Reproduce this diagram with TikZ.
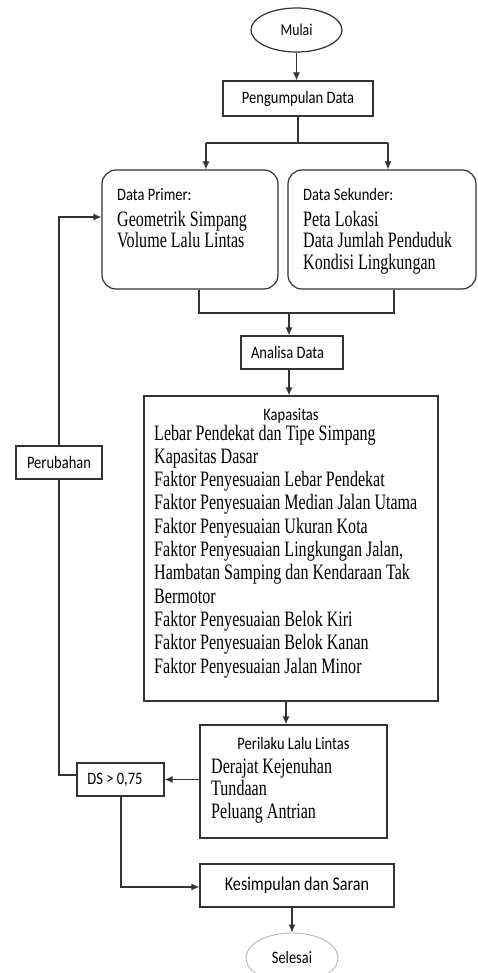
\documentclass[tikz,border=0pt]{standalone}
\usepackage{fontspec}
\newfontfamily\sansf{Carlito}[FakeStretch=0.83]
\newfontfamily\serf{Liberation Serif}[FakeStretch=0.73]
\usetikzlibrary{arrows.meta,shapes.geometric}
\definecolor{lnc}{HTML}{333333}
\begin{document}
\begin{tikzpicture}[x=1pt,y=-1pt,
  boxst/.style={draw=lnc,line width=1.2pt,rectangle,inner sep=0pt,text=black,font=\fontsize{17.5}{21}\sansf},
  roundst/.style={boxst,rounded corners=14pt},
  ellst/.style={draw=lnc,line width=1.2pt,ellipse,inner sep=0pt,text=black,font=\fontsize{17}{21}\sansf},
  conn/.style={draw=lnc,line width=1.2pt},
  arr/.style={conn,-{Latex[length=8pt,width=7pt]}},
  sanst/.style={anchor=base west,inner sep=0pt,text=black,font=\fontsize{17.5}{21}\sansf},
  serst/.style={anchor=base west,inner sep=0pt,text=black,font=\fontsize{22}{23}\serf},
]
\useasboundingbox (0,0) rectangle (478,973);
\clip (0,0) rectangle (478,973);
\fill[white] (0,0) rectangle (478,973);

% shapes
\node[ellst,minimum width=91pt,minimum height=44pt,font=\fontsize{16.6}{20}\sansf] (mulai) at (296.5,30) {Mulai};
\node[boxst,minimum width=150pt,minimum height=35pt] (peng) at (298,98.5) {Pengumpulan Data};
\node[roundst,minimum width=176pt,minimum height=119pt] (primer) at (190,229.5) {};
\node[roundst,minimum width=188pt,minimum height=119pt] (sekunder) at (382,229.5) {};
\node[boxst,minimum width=102pt,minimum height=33pt] (analisa) at (292,352.5) {Analisa Data\hspace*{9pt}};
\node[boxst,minimum width=294pt,minimum height=305pt] (kapasitas) at (291,548.5) {};
\node[boxst,minimum width=187pt,minimum height=113pt] (perilaku) at (293.5,781.5) {};
\node[boxst,minimum width=87pt,minimum height=33pt] (ds) at (120.5,779.5) {DS > 0,75\hspace*{11pt}};
\node[boxst,minimum width=86pt,minimum height=33pt] (perubahan) at (59,462.5) {Perubahan};
\node[boxst,minimum width=194pt,minimum height=43pt,font=\fontsize{19.4}{23}\sansf] (kesimpulan) at (297,885.5) {Kesimpulan dan Saran};
\node[ellst,draw=gray!55,line width=0.9pt,minimum width=92pt,minimum height=50pt,font=\fontsize{17.4}{21}\sansf] (selesai) at (292,958) {Selesai};

% texts in Data Primer
\node[sanst] (prt) at (117,200.7) {Data Primer:};
\node[serst] (pr1) at (117,226.7) {Geometrik Simpang};
\node[serst] (pr2) at (117,248) {Volume Lalu Lintas};
% texts in Data Sekunder
\node[sanst] (skt) at (303,200.7) {Data Sekunder:};
\node[serst] (sk1) at (303,226.7) {Peta Lokasi};
\node[serst] (sk2) at (303,248) {Data Jumlah Penduduk};
\node[serst] (sk3) at (303,269.3) {Kondisi Lingkungan};
% texts in Kapasitas
\node[sanst,anchor=base] (kpt) at (291,420) {Kapasitas};
\foreach \t [count=\i] in {Lebar Pendekat dan Tipe Simpang,
  Kapasitas Dasar,
  Faktor Penyesuaian Lebar Pendekat,
  Faktor Penyesuaian Median Jalan Utama,
  Faktor Penyesuaian Ukuran Kota,
  {Faktor Penyesuaian Lingkungan Jalan,},
  Hambatan Samping dan Kendaraan Tak,
  Bermotor,
  Faktor Penyesuaian Belok Kiri,
  Faktor Penyesuaian Belok Kanan,
  Faktor Penyesuaian Jalan Minor}
  \node[serst] (kp\i) at (154,{440+23.3*(\i-1)}) {\t};
% texts in Perilaku
\node[sanst,anchor=base] (plt) at (293.5,749.7) {Perilaku Lalu Lintas};
\node[serst] (pl1) at (211,773) {Derajat Kejenuhan};
\node[serst] (pl2) at (211,795.5) {Tundaan};
\node[serst] (pl3) at (211,818) {Peluang Antrian};

% connectors
\coordinate (sp) at (298,143);
\coordinate (sl) at (206,143);
\coordinate (sr) at (388,143);
\coordinate (jl) at (199,313);
\coordinate (jr) at (394,313);
\coordinate (jm) at (289,313);
\coordinate (kp) at (286,713);
\coordinate (dl) at (59,775);
\coordinate (fb) at (59,217);
\coordinate (dk) at (121,887);

\draw[arr] (mulai.south) -- (mulai.south |- peng.north);
\draw[conn] (peng.south) -- (sp);
\draw[conn] (sl) -- (sr);
\draw[arr] (sl) -- (sl |- primer.north);
\draw[arr] (sr) -- (sr |- sekunder.north);
\draw[conn] (jl |- primer.south) -- (jl) -- (jr) -- (jr |- sekunder.south);
\draw[arr] (jm) -- (jm |- analisa.north);
\draw[arr] (jm |- analisa.south) -- (jm |- kapasitas.north);
\draw[arr] (kp |- kapasitas.south) -- (kp |- perilaku.north);
\draw[arr] (perilaku.west |- ds.east) -- (ds.east);
\draw[conn] (ds.west |- dl) -- (dl) -- (dl |- perubahan.south);
\draw[arr] (perubahan.north) -- (fb) -- (fb -| primer.west);
\draw[arr] (dk |- ds.south) -- (dk) -- (dk -| kesimpulan.west);
\draw[arr] (selesai.north |- kesimpulan.south) -- (selesai.north);
\end{tikzpicture}
\end{document}
